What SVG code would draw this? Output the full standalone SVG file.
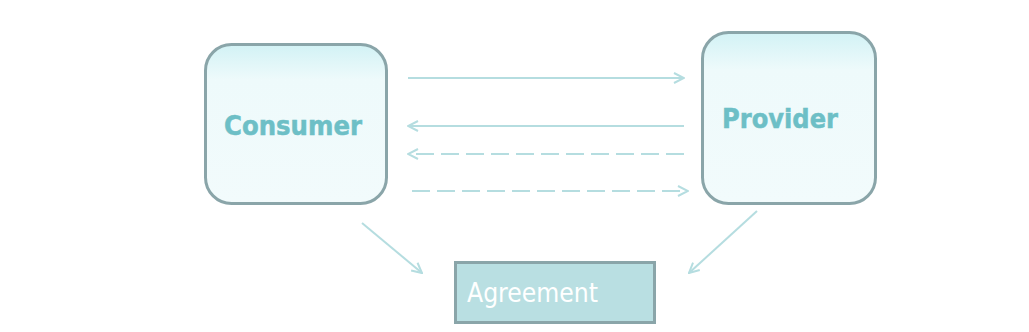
<svg xmlns="http://www.w3.org/2000/svg" width="1029" height="332" viewBox="0 0 1029 332">
<defs>
<linearGradient id="g" x1="0" y1="0" x2="0" y2="1">
<stop offset="0" stop-color="#d2f2f5"/>
<stop offset="0.22" stop-color="#eefafb"/>
<stop offset="1" stop-color="#f2fbfc"/>
</linearGradient>
<marker id="ah" viewBox="0 0 12 12" refX="11" refY="6" markerWidth="12" markerHeight="12" markerUnits="userSpaceOnUse" orient="auto">
<path d="M1,1 L11,6 L1,11" fill="none" stroke="#b5dde0" stroke-width="2"/>
</marker>
<style>
.box{fill:url(#g);stroke:#8aa5a9;stroke-width:3}
.lbl{font-family:"DejaVu Sans",Verdana,sans-serif;font-weight:bold;font-size:27px;fill:#6dbfc6;stroke:#6dbfc6;stroke-width:0.5}
.ln{stroke:#b5dde0;stroke-width:2;fill:none;marker-end:url(#ah)}
.d{stroke-dasharray:18 7}
</style>
</defs>
<rect width="1029" height="332" fill="#ffffff"/>
<g id="consumer">
<rect class="box" x="205.5" y="44.5" width="181" height="159" rx="26"/>
<text class="lbl" x="224" y="135" textLength="138" lengthAdjust="spacingAndGlyphs">Consumer</text>
</g>
<g id="provider">
<rect class="box" x="702.5" y="32.5" width="173" height="171" rx="26"/>
<text class="lbl" x="722" y="128" textLength="116" lengthAdjust="spacingAndGlyphs">Provider</text>
</g>
<g id="agreement">
<rect x="455.5" y="262.5" width="199" height="60" fill="#b9dfe2" stroke="#8aa5a9" stroke-width="3"/>
<text x="467" y="302" font-family="'DejaVu Sans Condensed','DejaVu Sans',sans-serif" font-size="27" fill="#ffffff" textLength="131" lengthAdjust="spacingAndGlyphs">Agreement</text>
</g>
<g id="connectors">
<line class="ln" x1="408" y1="78" x2="684" y2="78"/>
<line class="ln" x1="684" y1="126" x2="408" y2="126"/>
<line class="ln d" x1="684" y1="154" x2="408" y2="154"/>
<line class="ln d" x1="412" y1="191" x2="688" y2="191"/>
<line class="ln" x1="362" y1="223" x2="422" y2="273"/>
<line class="ln" x1="757" y1="211" x2="689" y2="273"/>
</g>
</svg>
